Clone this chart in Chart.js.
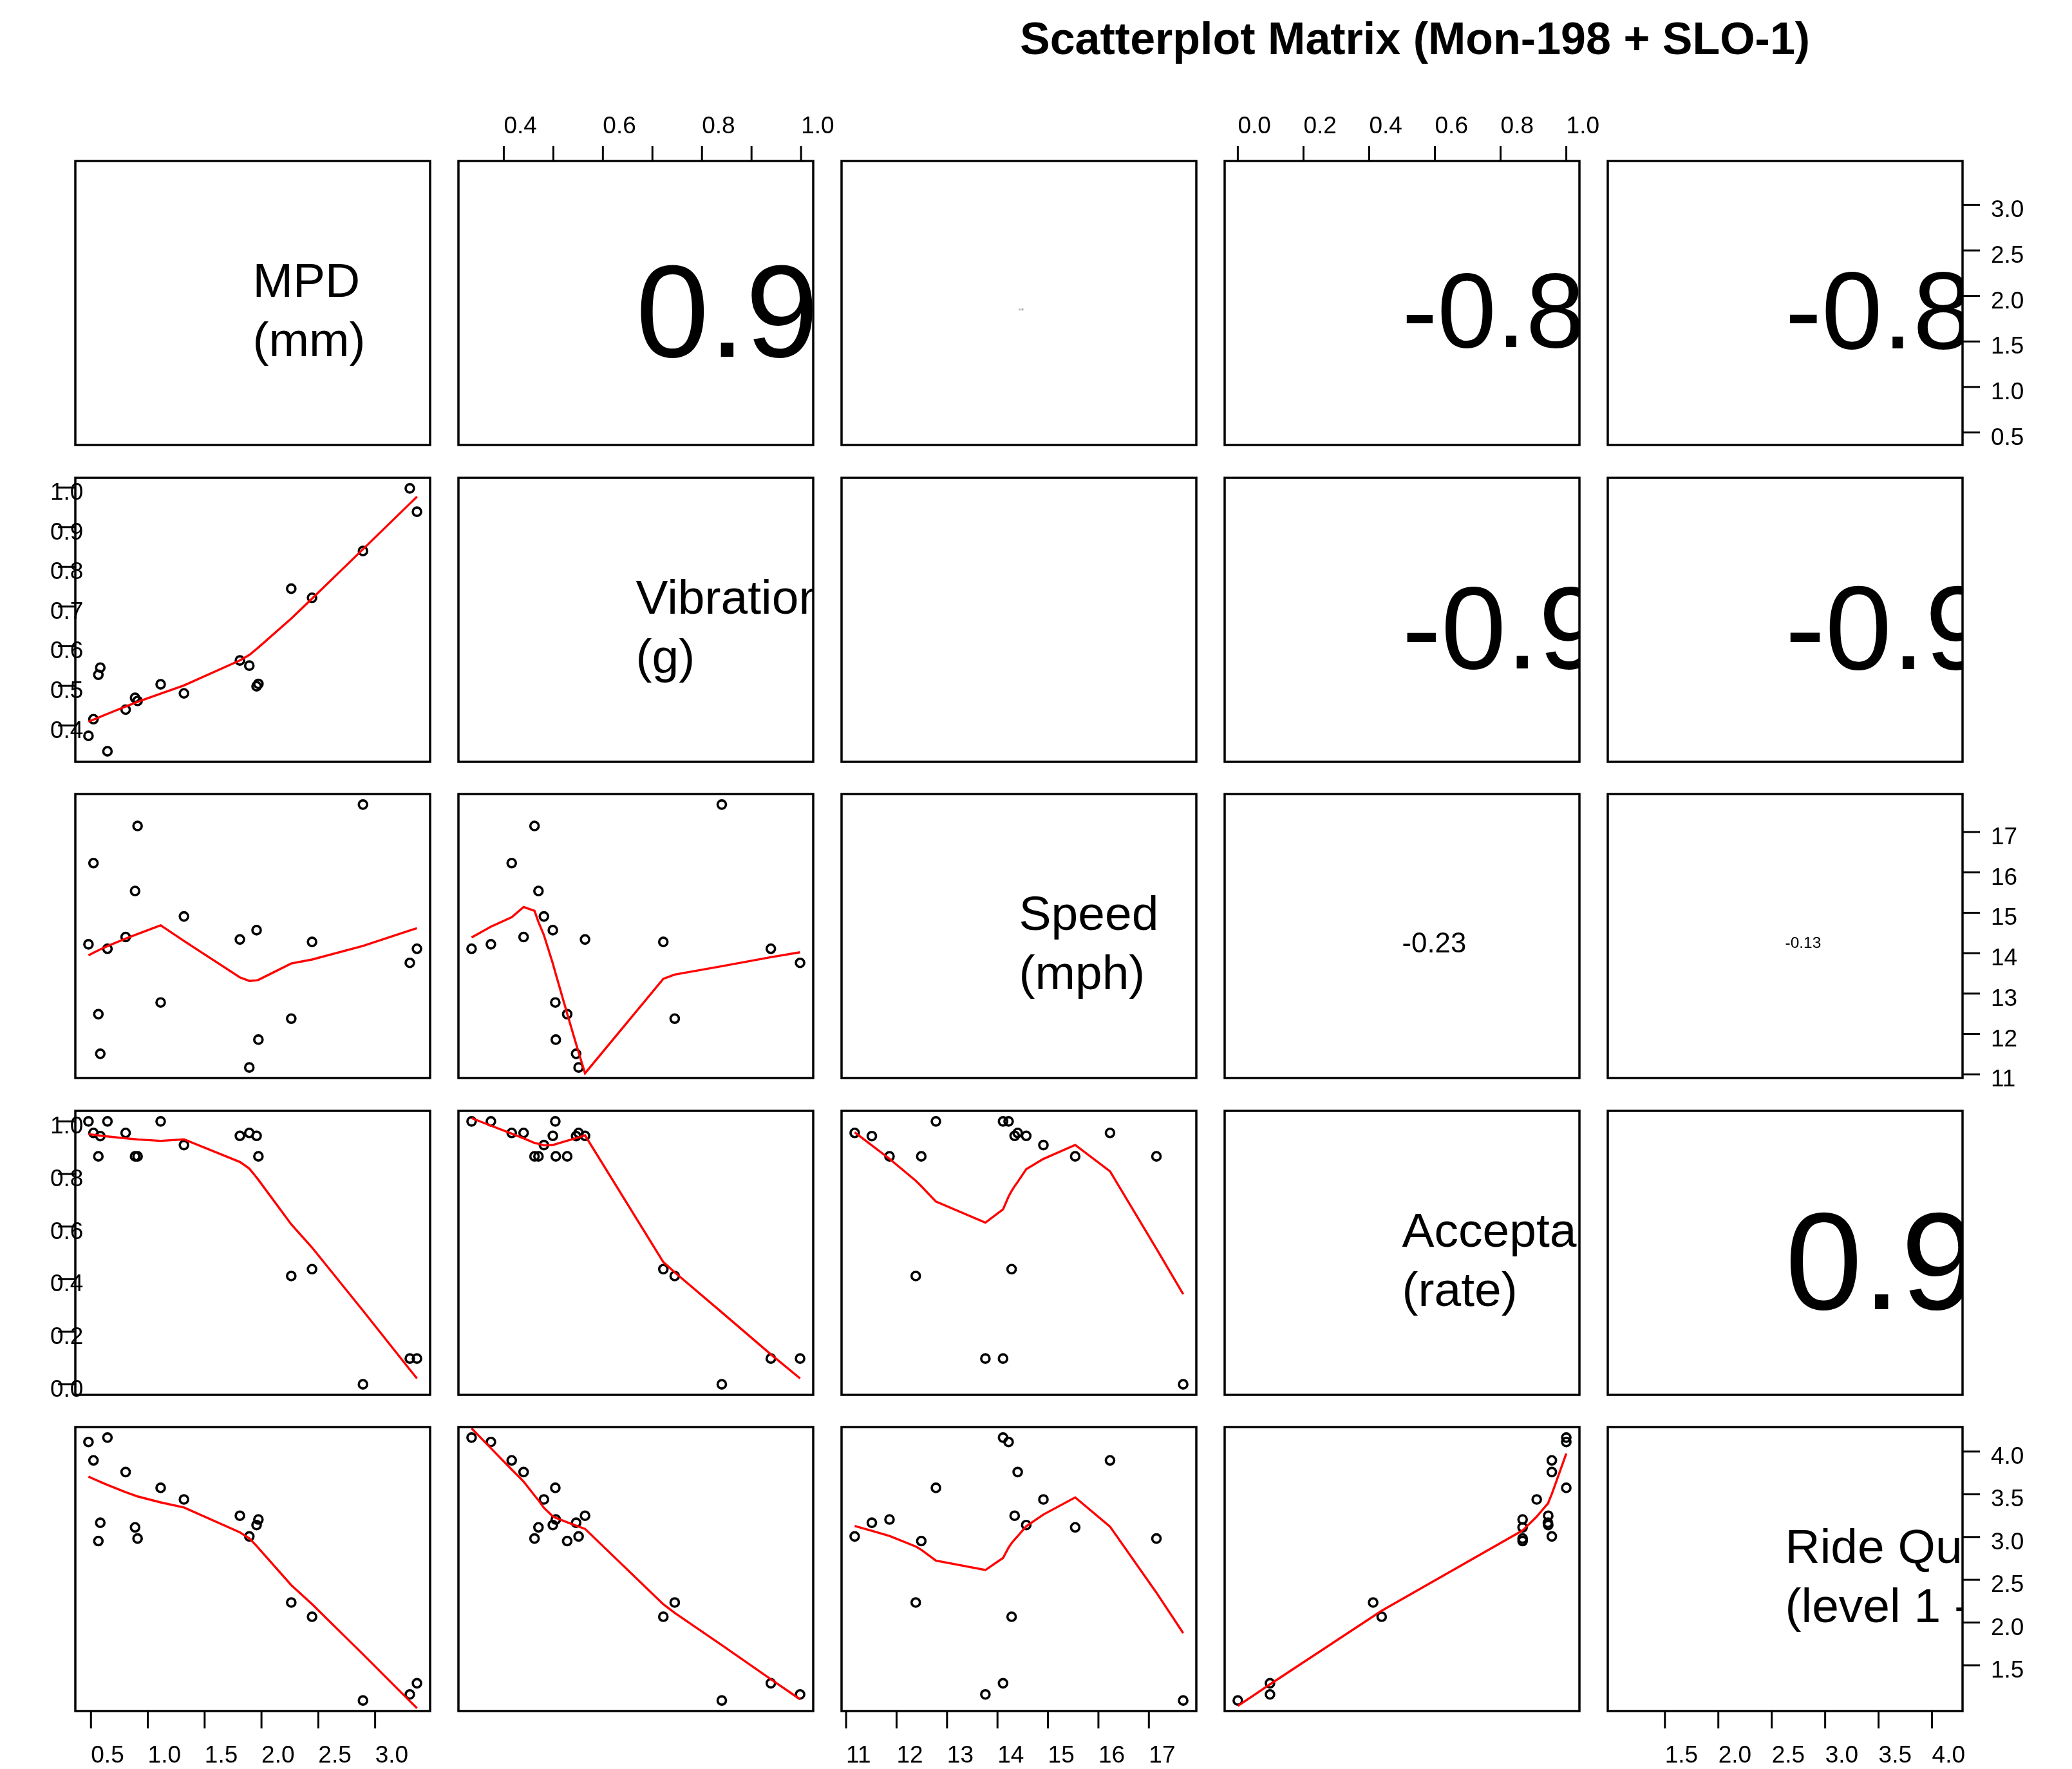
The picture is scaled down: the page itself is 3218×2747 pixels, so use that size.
<!DOCTYPE html>
<html>
<head>
<meta charset="utf-8">
<script src="https://cdn.jsdelivr.net/npm/chart.js@4.4.1/dist/chart.umd.min.js"></script>
<style>
    html, body { margin: 0; padding: 0; background: #fff; }
    #page { position: relative; width: 3218px; height: 2747px; overflow: hidden; background: #fff; }
    #page canvas { position: absolute; }
    #title {
        position: absolute; left: 1584px; top: 20px; line-height: 68px;
        font: bold 70px "Liberation Sans", Arial, sans-serif; white-space: nowrap; color: #000;
    }
</style>
</head>
<body>
<div id="page"><div id="title">Scatterplot Matrix (Mon-198 + SLO-1)</div></div>
<script>
(function () {
    "use strict";

    // Data (one entry per test section)
    const mpd = [0.478, 0.522, 0.565, 0.582, 0.645, 0.805, 0.888, 0.910, 1.113, 1.318,
        1.810, 1.893, 1.957, 1.973, 2.262, 2.445, 2.893, 3.305, 3.368];
    const vibration = [0.374, 0.416, 0.528, 0.546, 0.335, 0.440, 0.470, 0.462, 0.504, 0.481,
        0.564, 0.551, 0.499, 0.505, 0.745, 0.722, 0.840, 0.998, 0.939];
    const speed = [14.22, 16.23, 12.49, 11.51, 14.11, 14.40, 15.54, 17.15, 12.78, 14.91,
        14.34, 11.17, 14.57, 11.86, 12.38, 14.28, 17.68, 13.76, 14.11];
    const acceptance = [1.0, 0.956, 0.867, 0.944, 1.0, 0.956, 0.867, 0.867, 1.0, 0.910,
        0.945, 0.956, 0.945, 0.867, 0.412, 0.438, 0.0, 0.098, 0.098];
    const rideQuality = [4.111, 3.896, 2.953, 3.167, 4.163, 3.760, 3.113, 2.982, 3.575, 3.439,
        3.249, 3.007, 3.140, 3.205, 2.234, 2.068, 1.088, 1.159, 1.290];

    const varLabels = [
        ["MPD", "(mm)"],
        ["Vibration", "(g)"],
        ["Speed", "(mph)"],
        ["Acceptance", "(rate)"],
        ["Ride Quality", "(level 1 - 5)"],
    ];

    // Tick values and tick labels
    const mpdTicks = [0.5, 1.0, 1.5, 2.0, 2.5, 3.0];
    const mpdLabels = ["0.5", "1.0", "1.5", "2.0", "2.5", "3.0"];
    const vibTicks = [0.4, 0.5, 0.6, 0.7, 0.8, 0.9, 1.0];
    const vibLabels = ["0.4", "0.5", "0.6", "0.7", "0.8", "0.9", "1.0"];
    const vibTopLabels = ["0.4", "", "0.6", "", "0.8", "", "1.0"];
    const speedTicks = [11, 12, 13, 14, 15, 16, 17];
    const speedLabels = ["11", "12", "13", "14", "15", "16", "17"];
    const accTicks = [0.0, 0.2, 0.4, 0.6, 0.8, 1.0];
    const accLabels = ["0.0", "0.2", "0.4", "0.6", "0.8", "1.0"];
    const rideTicks = [1.5, 2.0, 2.5, 3.0, 3.5, 4.0];
    const rideLabels = ["1.5", "2.0", "2.5", "3.0", "3.5", "4.0"];

    const vars = [mpd, vibration, speed, acceptance, rideQuality];
    const ticks = [mpdTicks, vibTicks, speedTicks, accTicks, rideTicks];
    const xLabels = [mpdLabels, vibTopLabels, speedLabels, accLabels, rideLabels];
    const yLabels = [mpdLabels, vibLabels, speedLabels, accLabels, rideLabels];

    // Layout
    const FAMILY = '"Liberation Sans", Arial, sans-serif';
    const PAD = 110;
    const BOX_W = 551, BOX_H = 441;
    const colLeft = [117, 712, 1307, 1902, 2497];
    const rowTop = [250, 742, 1233, 1725, 2216];

    // axis limits like R: range +/- 4%
    const lims = vars.map((v) => {
        const lo = Math.min(...v), hi = Math.max(...v), e = 0.04 * (hi - lo);
        return [lo - e, hi + e];
    });

    function pearson(a, b) {
        const n = a.length;
        const ma = a.reduce((s, v) => s + v, 0) / n;
        const mb = b.reduce((s, v) => s + v, 0) / n;
        let sab = 0, saa = 0, sbb = 0;
        for (let k = 0; k < n; k++) {
            sab += (a[k] - ma) * (b[k] - mb);
            saa += (a[k] - ma) * (a[k] - ma);
            sbb += (b[k] - mb) * (b[k] - mb);
        }
        return sab / Math.sqrt(saa * sbb);
    }

    function fmtCor(r) {
        const e = Math.floor(Math.log10(Math.abs(r)));
        return r.toFixed(Math.max(2, 1 - e));
    }

    // port of R's clowess (f = 2/3, iter = 3)
    function lowess(xIn, yIn, f, nsteps) {
        const n = xIn.length;
        const ord = xIn.map((v, k) => k).sort((p, q) => xIn[p] - xIn[q]);
        const x = ord.map((k) => xIn[k]);
        const y = ord.map((k) => yIn[k]);
        const delta = 0.01 * (x[n - 1] - x[0]);
        const range = x[n - 1] - x[0];
        const ys = new Array(n).fill(0);
        const rw = new Array(n).fill(1);
        const res = new Array(n).fill(0);
        const ns = Math.max(2, Math.min(n, Math.floor(f * n + 1e-7)));

        function lowest(xs, nleft, nright, userw) {
            const h = Math.max(xs - x[nleft], x[nright] - xs);
            const h9 = 0.999 * h, h1 = 0.001 * h;
            const w = new Array(n).fill(0);
            let a = 0, j = nleft;
            while (j < n) {
                w[j] = 0;
                const r = Math.abs(x[j] - xs);
                if (r <= h9) {
                    if (r <= h1) w[j] = 1;
                    else w[j] = Math.pow(1 - Math.pow(r / h, 3), 3);
                    if (userw) w[j] *= rw[j];
                    a += w[j];
                } else if (x[j] > xs) break;
                j++;
            }
            const nrt = j - 1;
            if (a <= 0) return null;
            for (j = nleft; j <= nrt; j++) w[j] /= a;
            if (h > 0) {
                a = 0;
                for (j = nleft; j <= nrt; j++) a += w[j] * x[j];
                let b = xs - a, c = 0;
                for (j = nleft; j <= nrt; j++) c += w[j] * (x[j] - a) * (x[j] - a);
                if (Math.sqrt(c) > 0.001 * range) {
                    b /= c;
                    for (j = nleft; j <= nrt; j++) w[j] *= (b * (x[j] - a) + 1);
                }
            }
            let s = 0;
            for (j = nleft; j <= nrt; j++) s += w[j] * y[j];
            return s;
        }

        for (let iter = 1; iter <= nsteps + 1; iter++) {
            let nleft = 0, nright = ns - 1, last = -1, i = 0;
            for (;;) {
                if (nright < n - 1) {
                    const d1 = x[i] - x[nleft], d2 = x[nright + 1] - x[i];
                    if (d1 > d2) { nleft++; nright++; continue; }
                }
                const v = lowest(x[i], nleft, nright, iter > 1);
                ys[i] = v === null ? y[i] : v;
                if (last < i - 1) {
                    const denom = x[i] - x[last];
                    for (let j = last + 1; j < i; j++) {
                        const al = (x[j] - x[last]) / denom;
                        ys[j] = al * ys[i] + (1 - al) * ys[last];
                    }
                }
                last = i;
                const cut = x[last] + delta;
                for (i = last + 1; i < n; i++) {
                    if (x[i] > cut) break;
                    if (x[i] === x[last]) { ys[i] = ys[last]; last = i; }
                }
                i = Math.max(last + 1, i - 1);
                if (last >= n - 1) break;
            }
            for (let k = 0; k < n; k++) res[k] = y[k] - ys[k];
            let sc = 0;
            for (let k = 0; k < n; k++) sc += Math.abs(res[k]);
            sc /= n;
            if (iter > nsteps) break;
            const sorted = res.map(Math.abs).sort((p, q) => p - q);
            const m1 = Math.floor(n / 2);
            const cmad = n % 2 === 0 ? 3 * (sorted[m1] + sorted[n - m1 - 1]) : 6 * sorted[m1];
            if (cmad < 1e-7 * sc) break;
            const c9 = 0.999 * cmad, c1 = 0.001 * cmad;
            for (let k = 0; k < n; k++) {
                const r = Math.abs(res[k]);
                if (r <= c1) rw[k] = 1;
                else if (r <= c9) rw[k] = Math.pow(1 - Math.pow(r / cmad, 2), 2);
                else rw[k] = 0;
            }
        }
        return x.map((v, k) => ({ x: v, y: ys[k] }));
    }

    function drawAxis(chart, side, col, row) {
        const ctx = chart.ctx, a = chart.chartArea;
        const isX = side === "top" || side === "bottom";
        const v = isX ? col : row;
        const scale = isX ? chart.scales.x : chart.scales.y;
        const labs = isX ? xLabels[v] : yLabels[v];
        ctx.lineWidth = 3;
        ctx.strokeStyle = "#000";
        ctx.fillStyle = "#000";
        ctx.font = "37px " + FAMILY;
        ctx.textAlign = "left";
        ctx.textBaseline = "alphabetic";
        ticks[v].forEach((t, k) => {
            const p = scale.getPixelForValue(t);
            ctx.beginPath();
            if (side === "bottom") {
                ctx.moveTo(p, a.bottom); ctx.lineTo(p, a.bottom + 27); ctx.stroke();
                if (labs[k]) ctx.fillText(labs[k], p, a.bottom + 80);
            } else if (side === "top") {
                ctx.moveTo(p, a.top); ctx.lineTo(p, a.top - 23); ctx.stroke();
                if (labs[k]) ctx.fillText(labs[k], p, a.top - 43);
            } else if (side === "right") {
                ctx.moveTo(a.right, p); ctx.lineTo(a.right + 27, p); ctx.stroke();
                if (labs[k]) ctx.fillText(labs[k], a.right + 44, p + 19);
            } else {
                ctx.moveTo(a.left, p); ctx.lineTo(a.left - 27, p); ctx.stroke();
                if (labs[k]) ctx.fillText(labs[k], a.left - 39, p + 19);
            }
        });
    }

    const cellDecor = {
        id: "cellDecor",
        afterDraw(chart, args, o) {
            const ctx = chart.ctx, a = chart.chartArea;
            const i = o.row, j = o.col;
            const cx = (a.left + a.right) / 2, cy = (a.top + a.bottom) / 2;
            ctx.save();
            if (i <= j) {
                ctx.save();
                ctx.beginPath();
                ctx.rect(a.left, a.top, a.right - a.left, a.bottom - a.top);
                ctx.clip();
                ctx.fillStyle = "#000";
                ctx.textAlign = "left";
                ctx.textBaseline = "alphabetic";
                if (i === j) {
                    ctx.font = "75px " + FAMILY;
                    varLabels[i].forEach((s, k) => ctx.fillText(s, cx, cy - 10 + k * 92));
                } else {
                    const r = pearson(vars[j], vars[i]);
                    const txt = fmtCor(r);
                    ctx.font = "100px " + FAMILY;
                    const w100 = ctx.measureText(txt).width;
                    const size = 100 * 0.8 * Math.abs(r) * (a.right - a.left) / w100;
                    ctx.font = size.toFixed(2) + "px " + FAMILY;
                    ctx.fillText(txt, cx, cy + 0.358 * size + 10);
                }
                ctx.restore();
            }
            ctx.lineWidth = 3.5;
            ctx.strokeStyle = "#000";
            ctx.strokeRect(a.left, a.top, a.right - a.left, a.bottom - a.top);
            if (i === 0 && j % 2 === 1) drawAxis(chart, "top", j, i);
            if (i === 4 && j % 2 === 0) drawAxis(chart, "bottom", j, i);
            if (j === 0 && i % 2 === 1) drawAxis(chart, "left", j, i);
            if (j === 4 && i % 2 === 0) drawAxis(chart, "right", j, i);
            ctx.restore();
        },
    };

    const page = document.getElementById("page");
    for (let i = 0; i < 5; i++) {
        for (let j = 0; j < 5; j++) {
            const cv = document.createElement("canvas");
            cv.width = BOX_W + 2 * PAD;
            cv.height = BOX_H + 2 * PAD;
            cv.style.left = (colLeft[j] - PAD) + "px";
            cv.style.top = (rowTop[i] - PAD) + "px";
            cv.style.width = cv.width + "px";
            cv.style.height = cv.height + "px";
            page.appendChild(cv);

            const datasets = [];
            if (i > j) {
                datasets.push({
                    data: lowess(vars[j], vars[i], 2 / 3, 3),
                    showLine: true,
                    borderColor: "#ff0000",
                    borderWidth: 3.4,
                    pointRadius: 0,
                    fill: false,
                    tension: 0,
                    order: 0,
                });
                datasets.push({
                    data: vars[j].map((v, k) => ({ x: v, y: vars[i][k] })),
                    pointStyle: "circle",
                    pointRadius: 6.5,
                    pointHoverRadius: 6.5,
                    borderWidth: 3.6,
                    borderColor: "#000",
                    backgroundColor: "rgba(0,0,0,0)",
                    order: 1,
                });
            }

            new Chart(cv, {
                type: "scatter",
                data: { datasets: datasets },
                options: {
                    responsive: false,
                    animation: false,
                    devicePixelRatio: 1,
                    events: [],
                    layout: { padding: PAD },
                    plugins: {
                        legend: { display: false },
                        tooltip: { enabled: false },
                        cellDecor: { row: i, col: j },
                    },
                    scales: {
                        x: { type: "linear", display: false, min: lims[j][0], max: lims[j][1] },
                        y: { type: "linear", display: false, min: lims[i][0], max: lims[i][1] },
                    },
                },
                plugins: [cellDecor],
            });
        }
    }
})();
</script>
</body>
</html>
